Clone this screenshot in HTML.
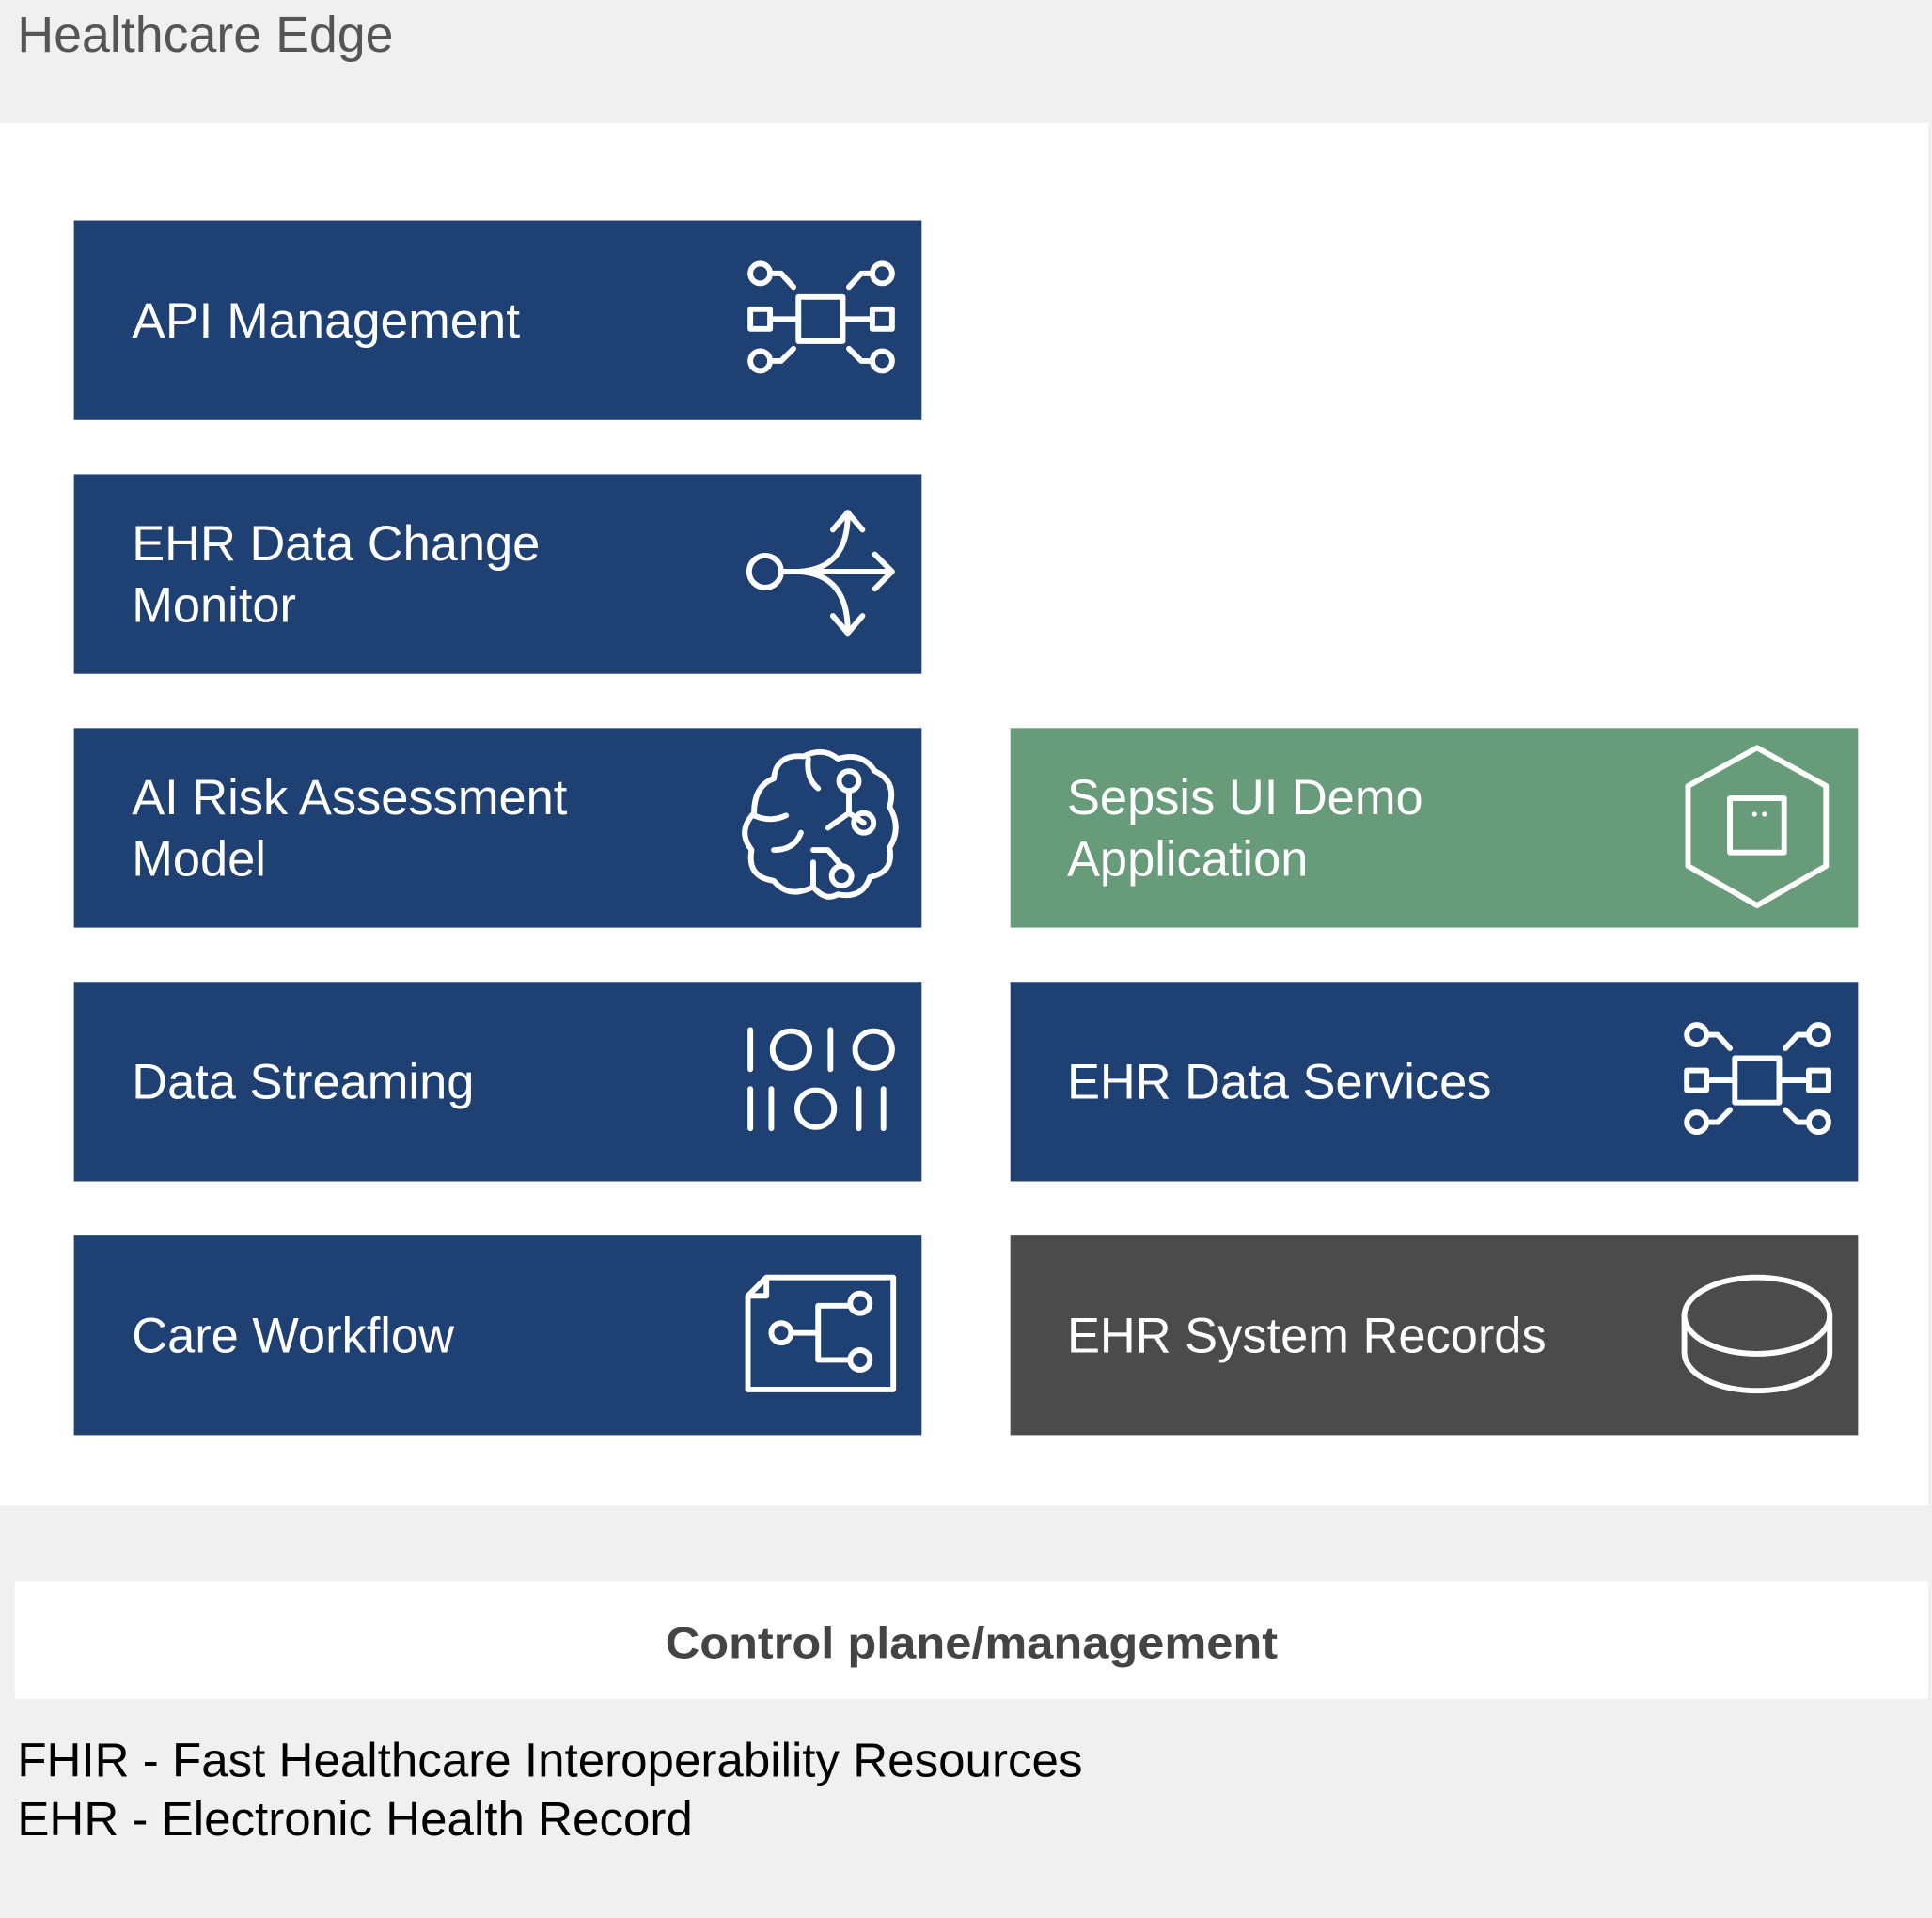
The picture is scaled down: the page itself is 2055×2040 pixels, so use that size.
<!DOCTYPE html>
<html><head><meta charset="utf-8"><style>html,body{margin:0;padding:0;background:#f0f0f0}svg{display:block}</style></head>
<body>
<svg width="2055" height="2040" viewBox="0 0 1568 1557" preserveAspectRatio="none" xmlns="http://www.w3.org/2000/svg" font-family="'Liberation Sans', sans-serif">
<rect x="0" y="0" width="1568" height="1557" fill="#f0f0f0"/>
<rect x="0" y="100" width="1565" height="1122" fill="#ffffff"/>
<text x="14" y="42" font-size="41" fill="#555555">Healthcare Edge</text>

<rect x="60" y="179" width="688" height="162" fill="#1f4072"/>
<rect x="60" y="385" width="688" height="162" fill="#1f4072"/>
<rect x="60" y="591" width="688" height="162" fill="#1f4072"/>
<rect x="60" y="797" width="688" height="162" fill="#1f4072"/>
<rect x="60" y="1003" width="688" height="162" fill="#1f4072"/>
<rect x="820" y="591" width="688" height="162" fill="#679b79"/>
<rect x="820" y="797" width="688" height="162" fill="#1f4072"/>
<rect x="820" y="1003" width="688" height="162" fill="#4b4b4b"/>

<g font-size="40" fill="#ffffff">
<text x="107" y="274" textLength="315" lengthAdjust="spacingAndGlyphs">API Management</text>
<text x="107" y="455">EHR Data Change</text>
<text x="107" y="505">Monitor</text>
<text x="107" y="661">AI Risk Assessment</text>
<text x="107" y="711">Model</text>
<text x="107" y="892">Data Streaming</text>
<text x="107" y="1098">Care Workflow</text>
<text x="866" y="661">Sepsis UI Demo</text>
<text x="866" y="711">Application</text>
<text x="866" y="892">EHR Data Services</text>
<text x="866" y="1098">EHR System Records</text>
</g>

<g fill="none" stroke="#ffffff" stroke-width="4.5" stroke-linecap="round" stroke-linejoin="round">
<g>
<circle cx="617" cy="222" r="8"/><circle cx="716" cy="222" r="8"/><circle cx="617" cy="293" r="8"/><circle cx="716" cy="293" r="8"/>
<path d="M625,222 L634,222 L644,233 M708,222 L699,222 L689,233 M625,293 L634,293 L644,283 M708,293 L699,293 L689,283"/>
<rect x="609" y="251" width="16" height="16"/><rect x="708" y="251" width="16" height="16"/>
<rect x="648" y="241" width="36" height="36"/>
<path d="M625,259 H648 M684,259 H708"/>
</g>
<g transform="translate(760,618)">
<circle cx="617" cy="222" r="8"/><circle cx="716" cy="222" r="8"/><circle cx="617" cy="293" r="8"/><circle cx="716" cy="293" r="8"/>
<path d="M625,222 L634,222 L644,233 M708,222 L699,222 L689,233 M625,293 L634,293 L644,283 M708,293 L699,293 L689,283"/>
<rect x="609" y="251" width="16" height="16"/><rect x="708" y="251" width="16" height="16"/>
<rect x="648" y="241" width="36" height="36"/>
<path d="M625,259 H648 M684,259 H708"/>
</g>
<circle cx="621" cy="464" r="13"/>
<path d="M634,464 H724 M710,450 L724,464 L710,478"/>
<path d="M648,464 Q688,462 688,418 M676,430 L688,416 L700,430"/>
<path d="M648,464 Q688,466 688,512 M676,500 L688,514 L700,500"/>
<path d="M660,720 Q640,730 628,715 Q606,712 610,690 Q598,675 612,660 Q612,638 628,632 Q630,612 652,614 Q668,606 680,616 Q700,610 710,626 Q728,634 722,655 Q732,672 722,688 Q726,708 706,712 Q700,730 680,726 Q670,732 660,720 Z"/>
<path d="M612,662 Q625,668 638,662 M628,690 Q645,690 650,676 M656,616 Q654,632 664,640 M660,720 V700"/>
<circle cx="689" cy="634" r="8"/><circle cx="701" cy="668" r="8"/><circle cx="683" cy="711" r="8"/>
<path d="M689,642 V660 L701,668 M683,703 L672,690 L660,690 M689,660 L672,672"/>
<path d="M609,836 V868 M674,836 V868 M609,884 V916 M626,884 V916 M697,884 V916 M717,884 V916"/>
<circle cx="642" cy="852" r="15"/><circle cx="709" cy="852" r="15"/><circle cx="662" cy="900" r="15"/>
<path d="M607,1052 L622,1037 H725 V1128 H607 Z M607,1052 H622 V1037"/>
<circle cx="634" cy="1082" r="8"/>
<path d="M642,1082 H664 M664,1060 V1104 M664,1060 H690 M664,1104 H690"/>
<circle cx="698" cy="1058" r="8"/><circle cx="698" cy="1104" r="8"/>
<path d="M1426,607 L1482,638 L1482,703 L1426,735 L1370,703 L1370,638 Z"/>
<rect x="1404" y="648" width="44" height="44"/>
<ellipse cx="1426" cy="1068" rx="59" ry="31"/>
<path d="M1367,1068 V1098 A59,31 0 0 0 1485,1098 V1068"/>
</g>
<circle cx="1424" cy="661" r="2" fill="#fff"/><circle cx="1432" cy="661" r="2" fill="#fff"/>

<rect x="12" y="1284" width="1553" height="95" fill="#ffffff"/>
<text x="540" y="1346" font-size="36" font-weight="bold" fill="#444444" textLength="497" lengthAdjust="spacingAndGlyphs">Control plane/management</text>
<text x="14" y="1442" font-size="39" fill="#000000">FHIR - Fast Healthcare Interoperability Resources</text>
<text x="14" y="1490" font-size="39" fill="#000000">EHR - Electronic Health Record</text>
</svg>
</body></html>
